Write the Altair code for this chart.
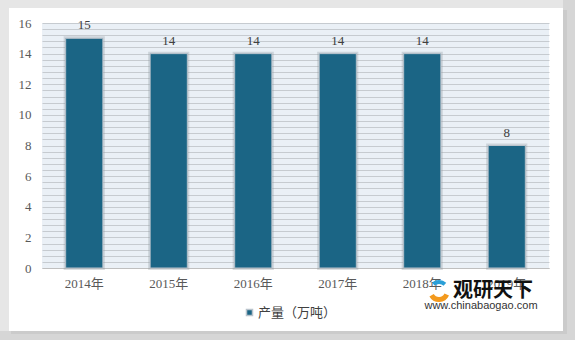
import altair as alt
import pandas as pd

years = ["2014年", "2015年", "2016年", "2017年", "2018年", "2019年"]
values = [15, 14, 14, 14, 14, 8]
series_name = "产量（万吨）"
y_ticks = [round(i * 0.4, 1) for i in range(41)]

df = pd.DataFrame({"year": years, "value": values, "series": [series_name] * len(years)})
one = pd.DataFrame({"k": [0]})

SERIF = "Liberation Serif, Noto Sans CJK SC"
SANS = "Noto Sans CJK SC"

x_enc = alt.X("year:N", sort=years, title=None,
              scale=alt.Scale(paddingInner=0.56, paddingOuter=0.28),
              axis=alt.Axis(labelAngle=0, labelFont=SERIF, labelFontSize=13,
                            labelColor="#595959", labelPadding=9, ticks=False,
                            domainColor="#bfbfbf", grid=False))
y_enc = alt.Y("value:Q", title=None,
              scale=alt.Scale(domain=[0, 16], nice=False),
              axis=alt.Axis(values=y_ticks,
                            labelExpr="datum.value % 2 == 0 ? format(datum.value, 'd') : ''",
                            labelFont=SERIF, labelFontSize=13, labelColor="#595959",
                            labelPadding=11, ticks=False, domain=False, labelOverlap=False,
                            grid=True, gridColor="#c6cbd0", gridWidth=1))


def strip(x1, x2, y1, y2, c):
    return alt.Chart(one).mark_rect(color=c).encode(
        x=alt.value(x1), x2=alt.value(x2), y=alt.value(y1), y2=alt.value(y2))


# page frame shadow (outside the white card)
strips = [
    strip(-42, -33, -23, 317, "#e6e6e6"),
    strip(-42, 533, -23, -15, "#e6e6e6"),
    strip(521, 533, -23, 317, "#d6d6d6"),
    strip(-42, 533, 308, 317, "#d6d6d6"),
    strip(521, 525, -13, 310, "#cbcbcb"),
    strip(-31, 525, 308, 311, "#cbcbcb"),
]

base = alt.Chart(df)
glow = base.mark_bar(color="#1b6585", stroke="#8a949c", strokeWidth=4, strokeOpacity=0.3).encode(
    x=x_enc, y=y_enc)
bars = base.mark_bar(stroke="#b9c3cc", strokeWidth=1).encode(
    x=x_enc, y=y_enc,
    color=alt.Color("series:N", scale=alt.Scale(range=["#1b6585"]),
                    legend=alt.Legend(title=None, orient="none", legendX=201, legendY=283,
                                      symbolType="square", symbolSize=36,
                                      labelFont=SANS, labelFontSize=13, labelColor="#404040",
                                      labelOffset=2)))
labels = base.mark_text(dy=-6, font=SERIF, fontSize=13, color="#404040", baseline="bottom").encode(
    x=x_enc, y=y_enc, text="value:Q")

wm1 = alt.Chart(one).mark_text(text="观研天下", font=SANS, fontSize=20, fontWeight="bold",
                               color="#111111").encode(x=alt.value(451), y=alt.value(268))
wm2 = alt.Chart(one).mark_text(text="www.chinabaogao.com", font="Liberation Sans", fontSize=11,
                               color="#333333").encode(x=alt.value(439), y=alt.value(283))
logo_o = alt.Chart(one).mark_arc(color="#f39a1e", theta=2.0, theta2=4.2, innerRadius=6,
                                 outerRadius=11).encode(x=alt.value(397), y=alt.value(268))
logo_b = alt.Chart(one).mark_arc(color="#2a9fd8", theta=5.6, theta2=7.0, innerRadius=7,
                                 outerRadius=11).encode(x=alt.value(397), y=alt.value(268))

chart = alt.layer(*strips, glow, bars, labels, logo_o, logo_b, wm1, wm2).properties(
    width=507, height=245,
    autosize=alt.AutoSizeParams(type="none"),
    padding={"left": 42, "top": 23, "right": 26, "bottom": 72},
    background="#ffffff",
).configure_view(stroke=None, fill="#eaf0f6").configure_axis(
    labelFont=SERIF, labelFontSize=13
)

chart.save("out.html", embed_options={"renderer": "svg", "actions": False})
